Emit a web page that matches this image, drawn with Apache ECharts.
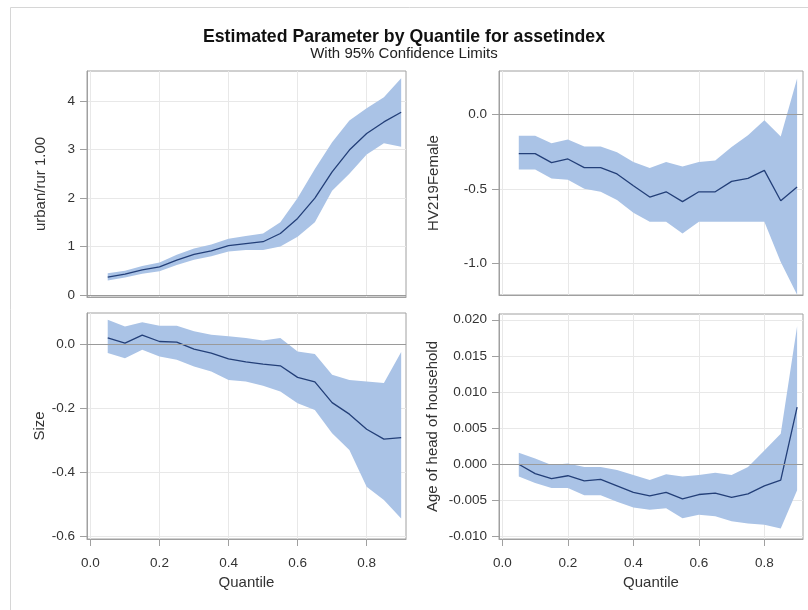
<!DOCTYPE html>
<html>
<head>
<meta charset="utf-8">
<script src="https://cdn.jsdelivr.net/npm/echarts@6/dist/echarts.min.js"></script>
<style>
  html, body { margin: 0; padding: 0; background: #ffffff; }
  #chart { width: 808px; height: 610px; }
</style>
</head>
<body>
<div id="chart"></div>
<script>
// Quantile levels at which the regression was estimated
const quantiles = [0.05, 0.10, 0.15, 0.20, 0.25, 0.30, 0.35, 0.40, 0.45,
                   0.50, 0.55, 0.60, 0.65, 0.70, 0.75, 0.80, 0.85, 0.90];

// urban/rur 1.00
const urbanEst   = [0.37, 0.43, 0.52, 0.58, 0.72, 0.84, 0.91, 1.02, 1.06, 1.10, 1.27, 1.58, 2.00, 2.54, 2.99, 3.33, 3.57, 3.77];
const urbanLower = [0.30, 0.36, 0.44, 0.49, 0.62, 0.73, 0.80, 0.90, 0.93, 0.93, 1.00, 1.20, 1.50, 2.15, 2.50, 2.90, 3.13, 3.06];
const urbanUpper = [0.45, 0.50, 0.60, 0.67, 0.83, 0.96, 1.04, 1.16, 1.22, 1.27, 1.50, 2.00, 2.60, 3.15, 3.60, 3.85, 4.08, 4.47];

// HV219Female
const femaleEst   = [-0.264, -0.264, -0.324, -0.300, -0.358, -0.358, -0.400, -0.480, -0.555, -0.520, -0.586, -0.520, -0.520, -0.450, -0.430, -0.376, -0.580, -0.488];
const femaleLower = [-0.370, -0.370, -0.430, -0.440, -0.500, -0.520, -0.575, -0.660, -0.720, -0.720, -0.800, -0.720, -0.720, -0.720, -0.720, -0.720, -0.990, -1.210];
const femaleUpper = [-0.145, -0.145, -0.195, -0.170, -0.217, -0.217, -0.255, -0.320, -0.360, -0.320, -0.350, -0.320, -0.310, -0.220, -0.140, -0.040, -0.150, 0.240];

// Size
const sizeEst   = [0.019, 0.003, 0.028, 0.008, 0.006, -0.016, -0.028, -0.046, -0.056, -0.063, -0.068, -0.104, -0.118, -0.183, -0.219, -0.266, -0.297, -0.292];
const sizeLower = [-0.028, -0.044, -0.018, -0.039, -0.049, -0.070, -0.086, -0.112, -0.117, -0.130, -0.148, -0.185, -0.206, -0.279, -0.331, -0.446, -0.487, -0.545];
const sizeUpper = [0.076, 0.055, 0.068, 0.057, 0.057, 0.040, 0.029, 0.024, 0.019, 0.011, 0.019, -0.023, -0.031, -0.096, -0.112, -0.117, -0.122, -0.025];

// Age of head of household
const ageEst   = [0.0000, -0.0013, -0.0020, -0.0016, -0.0023, -0.0021, -0.0030, -0.0039, -0.0044, -0.0039, -0.0048, -0.0042, -0.0040, -0.0046, -0.0041, -0.0030, -0.0022, 0.0079];
const ageLower = [-0.0017, -0.0026, -0.0033, -0.0033, -0.0043, -0.0043, -0.0052, -0.0060, -0.0063, -0.0061, -0.0075, -0.0070, -0.0072, -0.0079, -0.0082, -0.0084, -0.0089, -0.0036];
const ageUpper = [0.0016, 0.0008, -0.0001, 0.0001, -0.0004, -0.0004, -0.0008, -0.0015, -0.0022, -0.0014, -0.0017, -0.0015, -0.0012, -0.0015, -0.0004, 0.0019, 0.0042, 0.0191];

// Tick labels
const quantileTicks = [0.0, 0.2, 0.4, 0.6, 0.8];
const urbanTicks    = [0, 1, 2, 3, 4];
const femaleTicks   = [-1.0, -0.5, 0.0];
const sizeTicks     = [-0.6, -0.4, -0.2, 0.0];
const ageTicks      = [-0.010, -0.005, 0.000, 0.005, 0.010, 0.015, 0.020];

const FONT = 'Liberation Sans, Arial, sans-serif';
const FRAME = '#a0a0a0';
const GRID_LINE = '#e8e8e8';
const BAND = '#aac3e6';
const FIT = '#233f78';
const REF = '#9a9a9a';
const TEXT = '#333333';

const panels = [
  { name: 'urban/rur 1.00', est: urbanEst, lo: urbanLower, hi: urbanUpper,
    grid: { left: 87, top: 71, width: 319, height: 226 },
    x: [-0.010, 0.914], y: [-0.04, 4.62], yStep: 1, yTicks: urbanTicks, yDigits: 0, nameGap: 39, showX: false },
  { name: 'HV219Female', est: femaleEst, lo: femaleLower, hi: femaleUpper,
    grid: { left: 499, top: 71, width: 304, height: 224 },
    x: [-0.0104, 0.918], y: [-1.212, 0.29], yStep: 0.5, yTicks: femaleTicks, yDigits: 1, nameGap: 58, showX: false },
  { name: 'Size', est: sizeEst, lo: sizeLower, hi: sizeUpper,
    grid: { left: 87, top: 313, width: 319, height: 226 },
    x: [-0.010, 0.914], y: [-0.609, 0.097], yStep: 0.2, yTicks: sizeTicks, yDigits: 1, nameGap: 39, showX: true },
  { name: 'Age of head of household', est: ageEst, lo: ageLower, hi: ageUpper,
    grid: { left: 499, top: 314, width: 304, height: 225 },
    x: [-0.0104, 0.918], y: [-0.01036, 0.0208], yStep: 0.005, yTicks: ageTicks, yDigits: 3, nameGap: 59, showX: true }
];

const grids = [], xAxes = [], yAxes = [], series = [];

panels.forEach((p, i) => {
  grids.push(Object.assign({ show: true, borderColor: FRAME, borderWidth: 1, backgroundColor: '#ffffff' }, p.grid));

  xAxes.push({
    type: 'value', gridIndex: i, min: p.x[0], max: p.x[1],
    minInterval: 0.2, maxInterval: 0.2,
    name: p.showX ? 'Quantile' : '', nameLocation: 'middle', nameGap: 36,
    nameTextStyle: { fontFamily: FONT, fontSize: 15, color: TEXT },
    axisLine: { show: true, onZero: false, lineStyle: { color: FRAME } },
    axisTick: { show: p.showX, length: 7, lineStyle: { color: FRAME }, customValues: quantileTicks },
    axisLabel: { show: p.showX, margin: 17, fontFamily: FONT, fontSize: 13.5, color: TEXT,
                 customValues: quantileTicks, formatter: v => v.toFixed(1) },
    splitLine: { show: true, lineStyle: { color: GRID_LINE } }
  });

  yAxes.push({
    type: 'value', gridIndex: i, min: p.y[0], max: p.y[1],
    minInterval: p.yStep, maxInterval: p.yStep,
    name: p.name, nameLocation: 'middle', nameGap: p.nameGap, nameRotate: 90,
    nameTextStyle: { fontFamily: FONT, fontSize: 15, color: TEXT },
    axisLine: { show: true, onZero: false, lineStyle: { color: FRAME } },
    axisTick: { show: true, length: 7, lineStyle: { color: FRAME }, customValues: p.yTicks },
    axisLabel: { margin: 12, fontFamily: FONT, fontSize: 13.5, color: TEXT,
                 customValues: p.yTicks, formatter: v => v.toFixed(p.yDigits) },
    splitLine: { show: true, lineStyle: { color: GRID_LINE } }
  });

  // 95% confidence band
  series.push({
    type: 'custom', xAxisIndex: i, yAxisIndex: i, z: 2, silent: true, clip: true,
    data: quantiles.map((q, k) => [q, p.lo[k], p.hi[k]]),
    encode: { x: 0, y: [1, 2] },
    renderItem: (params, api) => {
      if (params.dataIndex !== 0) return null;
      const pts = [];
      for (let k = 0; k < quantiles.length; k++) pts.push(api.coord([quantiles[k], p.hi[k]]));
      for (let k = quantiles.length - 1; k >= 0; k--) pts.push(api.coord([quantiles[k], p.lo[k]]));
      return { type: 'polygon', shape: { points: pts }, style: { fill: BAND } };
    }
  });

  // Parameter estimate with zero reference line
  series.push({
    type: 'line', xAxisIndex: i, yAxisIndex: i, z: 4, silent: true,
    data: quantiles.map((q, k) => [q, p.est[k]]),
    symbol: 'none', lineStyle: { color: FIT, width: 1.3 },
    markLine: {
      silent: true, symbol: 'none', label: { show: false },
      lineStyle: { color: REF, type: 'solid', width: 1 },
      data: [{ yAxis: 0 }]
    }
  });
});

const chart = echarts.init(document.getElementById('chart'), null, { renderer: 'canvas' });
chart.setOption({
  animation: false,
  backgroundColor: '#ffffff',
  title: [
    { text: 'Estimated Parameter by Quantile for assetindex', left: 'center', top: 23,
      textStyle: { fontFamily: FONT, fontSize: 17.7, fontWeight: 'bold', color: '#111111' } },
    { text: 'With 95% Confidence Limits', left: 'center', top: 41,
      textStyle: { fontFamily: FONT, fontSize: 15, fontWeight: 'normal', color: '#222222' } }
  ],
  graphic: [
    { type: 'polyline', silent: true, z: 0,
      shape: { points: [[10.5, 700], [10.5, 7.5], [900, 7.5]] },
      style: { stroke: '#d6d6d6', lineWidth: 1, fill: null } }
  ],
  grid: grids,
  xAxis: xAxes,
  yAxis: yAxes,
  series: series
});
</script>
</body>
</html>
